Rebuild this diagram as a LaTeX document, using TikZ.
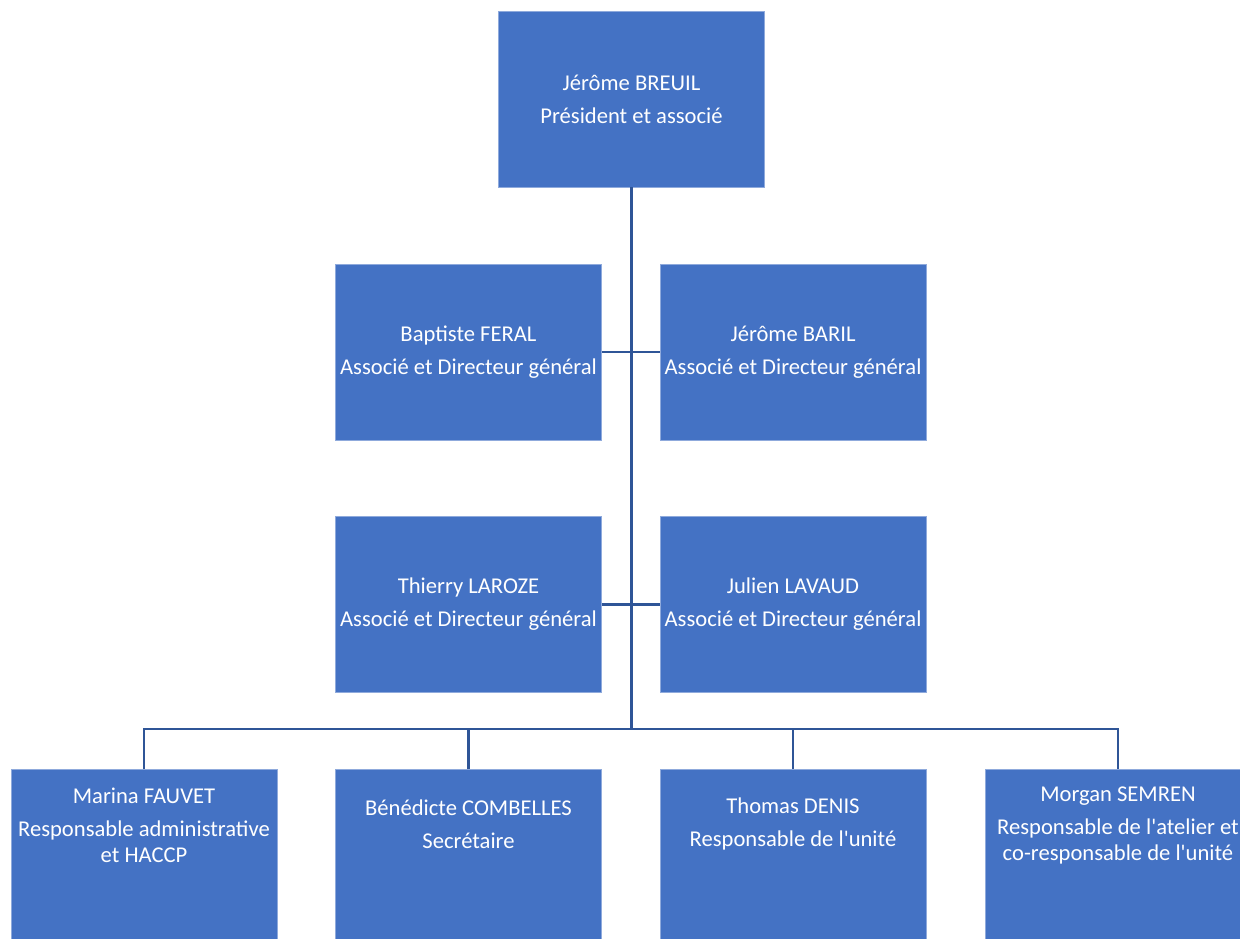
\documentclass[tikz,border=0pt]{standalone}
\usepackage{fontspec}
\setmainfont{Carlito}
\definecolor{boxblue}{HTML}{4472C4}
\definecolor{boxedge}{HTML}{8FAADC}
\definecolor{linkblue}{HTML}{2F5597}
\tikzset{
  person/.style={draw=boxedge, line width=0.8pt, fill=boxblue, text=white, align=center,
    minimum width=266pt, minimum height=176pt, inner sep=0pt, font=\fontsize{22.6}{26}\selectfont},
  lbl/.style={text=white, align=center, inner sep=0pt, font=\fontsize{22.6}{26}\selectfont},
  link/.style={draw=linkblue, line width=2.8pt}
}
\begin{document}
\begin{tikzpicture}[x=1pt,y=-1pt]
  \useasboundingbox (0,0) rectangle (1240,939);
  \clip (0,0) rectangle (1240,939);
  % top
  \node[person] (breuil) at (631.5,99) {J\'er\^ome BREUIL\\[7pt]Pr\'esident et associ\'e};
  % associates
  \node[person] (feral) at (468.5,352) {Baptiste FERAL\\[7pt]Associ\'e et Directeur g\'en\'eral};
  \node[person] (baril) at (793,352) {J\'er\^ome BARIL\\[7pt]Associ\'e et Directeur g\'en\'eral};
  \node[person] (laroze) at (468.5,604.5) {Thierry LAROZE\\[7pt]Associ\'e et Directeur g\'en\'eral};
  \node[person] (lavaud) at (793,604.5) {Julien LAVAUD\\[7pt]Associ\'e et Directeur g\'en\'eral};
  % staff
  \node[person, anchor=north] (fauvet) at (144,769) {};
  \node[person, anchor=north] (combelles) at (468.5,769) {};
  \node[person, anchor=north] (denis) at (793,769) {};
  \node[person, anchor=north] (semren) at (1118,769) {};
  \node[lbl] (fauvetlbl) at ([yshift=32pt]fauvet.center) {Marina FAUVET\\[7pt]Responsable administrative\\et HACCP};
  \node[lbl] (combelleslbl) at ([yshift=33pt]combelles.center) {B\'en\'edicte COMBELLES\\[7pt]Secr\'etaire};
  \node[lbl] (denislbl) at ([yshift=33pt]denis.center) {Thomas DENIS\\[7pt]Responsable de l\textquotesingle unit\'e};
  \node[lbl] (semrenlbl) at ([yshift=32pt]semren.center) {Morgan SEMREN\\[7pt]Responsable de l\textquotesingle atelier et\\co-responsable de l\textquotesingle unit\'e};
  % connectors
  \coordinate (bus) at (631.5,729);
  \draw[link] (breuil.south) -- (bus);
  \draw[link] (feral.east) -- (baril.west);
  \draw[link] (laroze.east) -- (lavaud.west);
  \draw[link] (fauvet.north) |- (bus) -| (semren.north);
  \draw[link] (combelles.north) |- (bus);
  \draw[link] (denis.north) |- (bus);
\end{tikzpicture}
\end{document}
